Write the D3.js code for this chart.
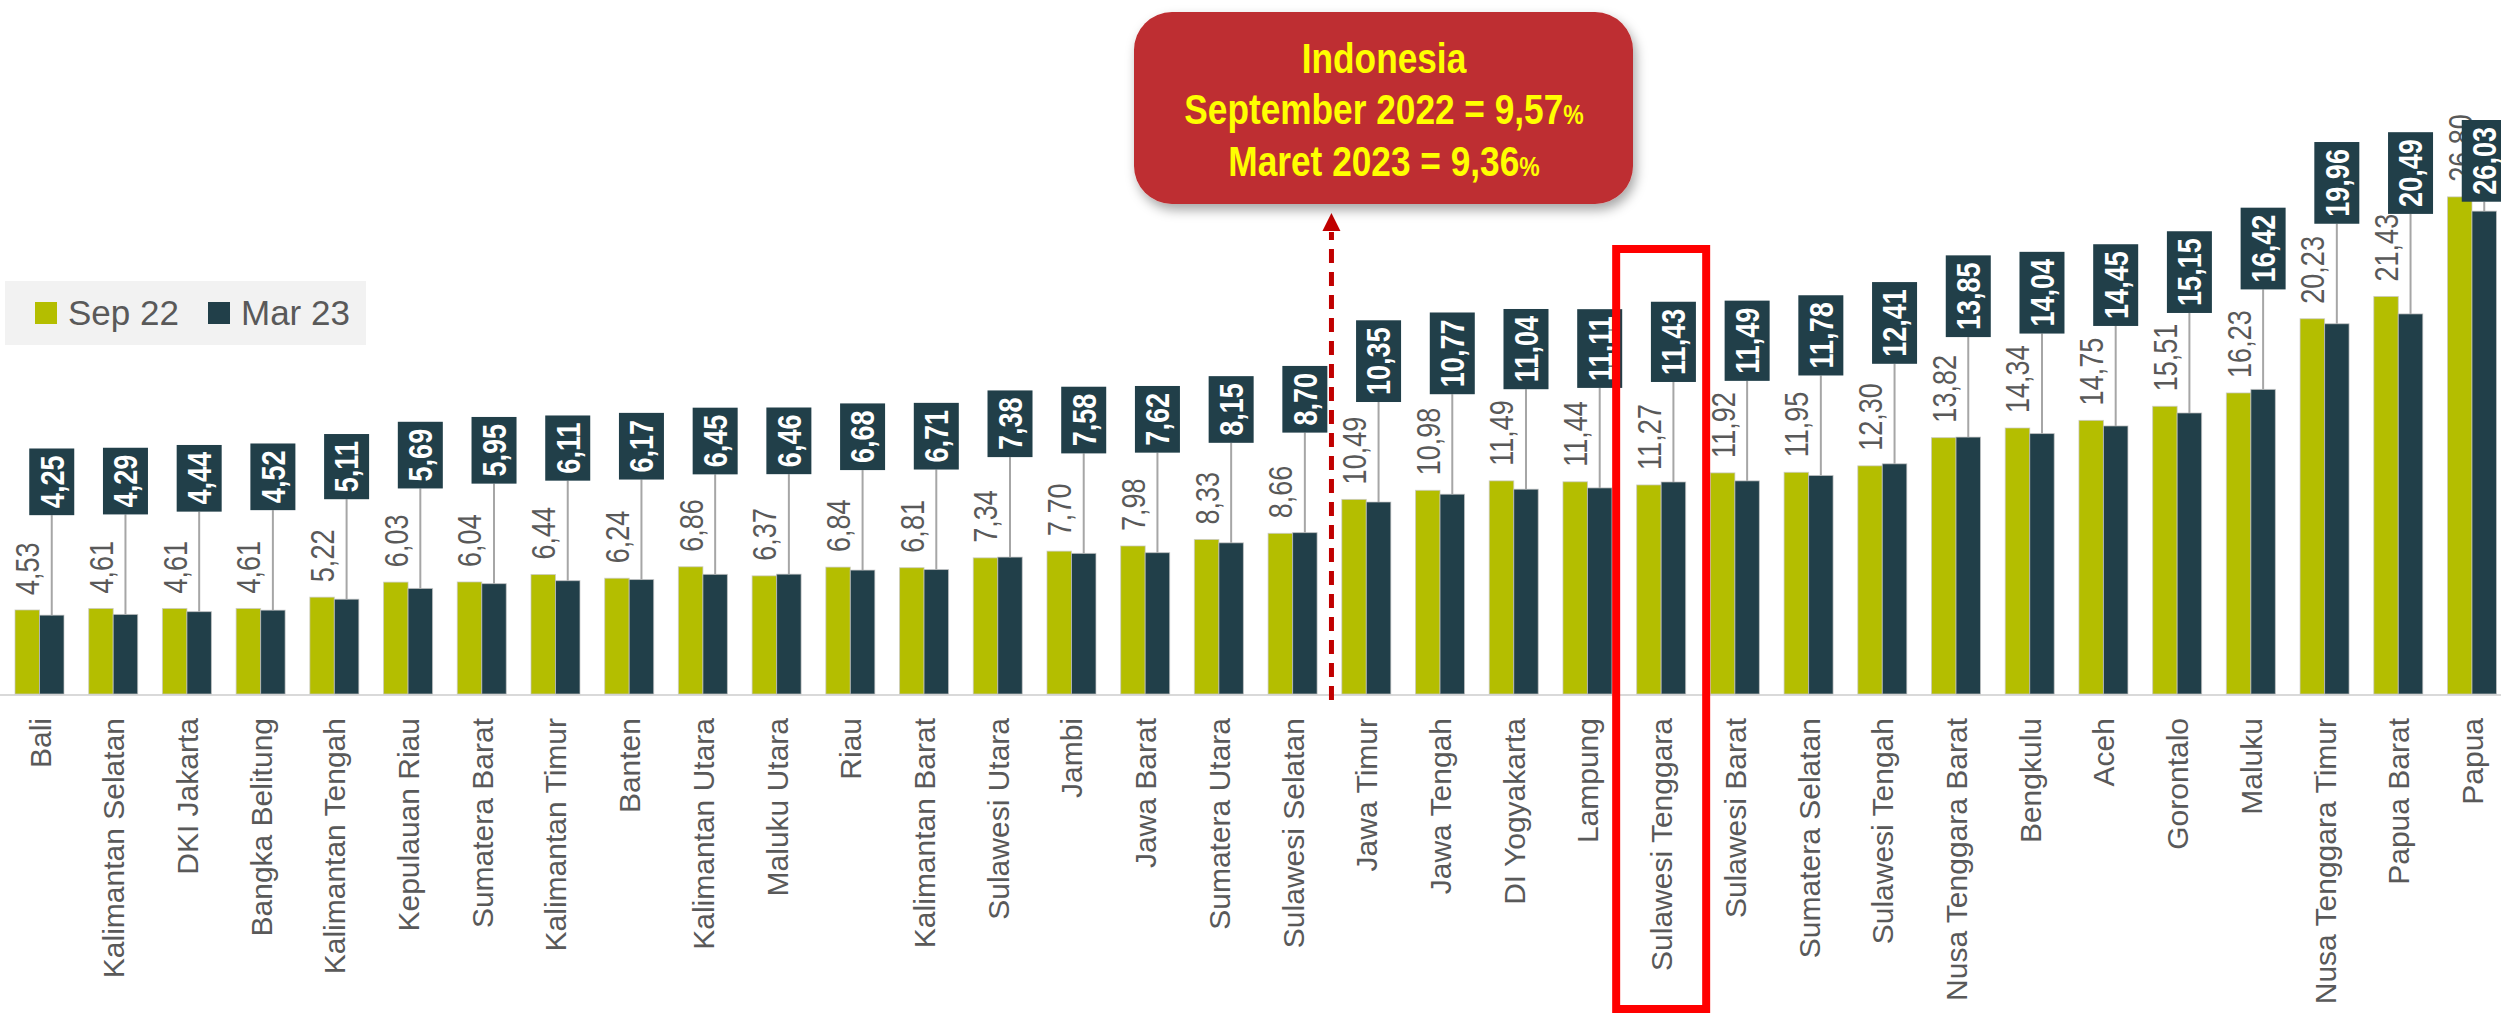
<!DOCTYPE html>
<html><head><meta charset="utf-8">
<script src="https://cdn.jsdelivr.net/npm/d3@7"></script>
<style>html,body{margin:0;padding:0;background:#fff;overflow:hidden}</style>
</head><body>
<svg id="chart" width="2501" height="1016"></svg>
<script>
// ---------------- DATA ----------------
const categories = ["Bali","Kalimantan Selatan","DKI Jakarta","Bangka Belitung","Kalimantan Tengah","Kepulauan Riau","Sumatera Barat","Kalimantan Timur","Banten","Kalimantan Utara","Maluku Utara","Riau","Kalimantan Barat","Sulawesi Utara","Jambi","Jawa Barat","Sumatera Utara","Sulawesi Selatan","Jawa Timur","Jawa Tengah","DI Yogyakarta","Lampung","Sulawesi Tenggara","Sulawesi Barat","Sumatera Selatan","Sulawesi Tengah","Nusa Tenggara Barat","Bengkulu","Aceh","Gorontalo","Maluku","Nusa Tenggara Timur","Papua Barat","Papua"];
const sep22 = [4.53,4.61,4.61,4.61,5.22,6.03,6.04,6.44,6.24,6.86,6.37,6.84,6.81,7.34,7.70,7.98,8.33,8.66,10.49,10.98,11.49,11.44,11.27,11.92,11.95,12.30,13.82,14.34,14.75,15.51,16.23,20.23,21.43,26.80];
const mar23 = [4.25,4.29,4.44,4.52,5.11,5.69,5.95,6.11,6.17,6.45,6.46,6.68,6.71,7.38,7.58,7.62,8.15,8.70,10.35,10.77,11.04,11.11,11.43,11.49,11.78,12.41,13.85,14.04,14.45,15.15,16.42,19.96,20.49,26.03];
const seriesNames = ["Sep 22","Mar 23"];
const calloutLines = [["Indonesia",""],["September 2022 = 9,57","%"],["Maret 2023 = 9,36","%"]];
const highlightCategory = "Sulawesi Tenggara";
const nationalAfter = "Sulawesi Selatan";

// ---------------- SETUP ----------------
const W = 2501, H = 1016;
const COL_SEP = "#b4be00", COL_MAR = "#213f49", TXT = "#595959";
const fmt = v => v.toFixed(2).replace(".", ",");

const NARROW = '"Liberation Sans Narrow","Arial Narrow","Liberation Sans",Arial,sans-serif';
const REG = '"Liberation Sans",Arial,sans-serif';

const svg = d3.select("#chart");
svg.append("rect").attr("width", W).attr("height", H).attr("fill", "#fff");

// measure narrow font digits and derive a horizontal scale so digits are Arial-Narrow wide (0.456em)
function narrowScale(weight){
  const t = svg.append("text").style("font-family", NARROW).style("font-size", "100px")
    .style("font-weight", weight).text("0123456789");
  const L = t.node().getComputedTextLength();
  t.remove();
  return Math.min(1, 456 / L);
}
const NS = narrowScale("normal");
const NSB = narrowScale("bold");

const baseY = 694;
const y = d3.scaleLinear().domain([0, 30]).range([baseY, baseY - 30 * 18.55]);
const x = d3.scalePoint().domain(categories).range([39.5, 2472]);
const xs = d3.scaleBand().domain(seriesNames).range([-24.5, 24.5]);
const bw = xs.bandwidth();
const series = [sep22, mar23];
const colors = [COL_SEP, COL_MAR];

// ---------------- AXIS ----------------
svg.append("line").attr("x1", 0).attr("x2", W).attr("y1", baseY + 1).attr("y2", baseY + 1)
  .attr("stroke", "#d9d9d9").attr("stroke-width", 2);

const axis = svg.append("g").attr("transform", `translate(0,${baseY})`)
  .call(d3.axisBottom(x).tickSize(0).tickPadding(0));
axis.select(".domain").remove();
axis.selectAll("text")
  .attr("y", 0).attr("x", -24).attr("dy", "0.35em")
  .attr("transform", "rotate(-90)").attr("text-anchor", "end")
  .style("font-family", REG).style("font-size", "30px").attr("fill", TXT);

// ---------------- BARS ----------------
const bars = svg.append("g");
series.forEach((vals, si) => {
  bars.selectAll(".b" + si).data(categories).join("rect")
    .attr("x", d => x(d) + xs(seriesNames[si]))
    .attr("y", (d, i) => y(vals[i]))
    .attr("width", bw)
    .attr("height", (d, i) => y(0) - y(vals[i]))
    .attr("fill", colors[si])
    .attr("stroke", "#c8c8c8").attr("stroke-width", 1).attr("stroke-opacity", 0.7);
});

// ---------------- SEP LABELS ----------------
svg.append("g").selectAll("text").data(categories).join("text")
  .attr("transform", (d, i) => `translate(${x(d) + xs(seriesNames[0]) + bw / 2},${y(sep22[i]) - 15}) rotate(-90) scale(${NS},1)`)
  .attr("dy", "0.36em").attr("text-anchor", "start")
  .style("font-family", NARROW).style("font-size", "33px").attr("fill", TXT)
  .text((d, i) => fmt(sep22[i]));

// ---------------- MAR LABELS (boxes) ----------------
const marG = svg.append("g");
categories.forEach((c, i) => {
  const cx = x(c) + xs(seriesNames[1]) + bw / 2;
  const top = y(mar23[i]);
  const g = marG.append("g");
  const t = g.append("text").attr("text-anchor", "middle").attr("dy", "0.36em")
    .style("font-family", NARROW).style("font-size", "33px").style("font-weight", "bold")
    .attr("fill", "#fff").text(fmt(mar23[i]));
  const len = t.node().getComputedTextLength() * NSB;
  const h = len + 14, w = 45;
  const boxTop = Math.max(top - 100 - h, 120);
  const boxBottom = boxTop + h;
  g.insert("line", "text").attr("x1", cx).attr("x2", cx).attr("y1", boxBottom).attr("y2", top)
    .attr("stroke", "#a6a6a6").attr("stroke-width", 2);
  g.insert("rect", "text").attr("x", cx - w / 2).attr("y", boxTop).attr("width", w).attr("height", h)
    .attr("fill", COL_MAR);
  t.attr("transform", `translate(${cx},${boxTop + h / 2}) rotate(-90) scale(${NSB},1)`);
});

// ---------------- LEGEND ----------------
const leg = svg.append("g");
leg.append("rect").attr("x", 5).attr("y", 281).attr("width", 361).attr("height", 64).attr("fill", "#f2f2f2");
const legX = [[35, 68], [208, 241]];
seriesNames.forEach((s, i) => {
  leg.append("rect").attr("x", legX[i][0]).attr("y", 302).attr("width", 22).attr("height", 22).attr("fill", colors[i]);
  leg.append("text").attr("x", legX[i][1]).attr("y", 325).style("font-family", REG).style("font-size", "35px")
    .attr("fill", TXT).text(s);
});

// ---------------- HIGHLIGHT BOX ----------------
svg.append("rect").attr("x", x(highlightCategory) - 45).attr("y", 249).attr("width", 90).attr("height", 760)
  .attr("fill", "none").attr("stroke", "#ff0000").attr("stroke-width", 8);

// ---------------- ARROW ----------------
const ia = categories.indexOf(nationalAfter);
const xm = (x(categories[ia]) + x(categories[ia + 1])) / 2 + 2;
svg.append("line").attr("x1", xm).attr("x2", xm).attr("y1", 700).attr("y2", 232)
  .attr("stroke", "#c00000").attr("stroke-width", 5).attr("stroke-dasharray", "14 9");
svg.append("path").attr("d", `M${xm},213 L${xm - 9},231 L${xm + 9},231 Z`).attr("fill", "#c00000");

// ---------------- CALLOUT ----------------
const defs = svg.append("defs");
const f = defs.append("filter").attr("id", "sh").attr("x", "-10%").attr("y", "-10%").attr("width", "130%").attr("height", "140%");
f.append("feDropShadow").attr("dx", 3).attr("dy", 6).attr("stdDeviation", 6).attr("flood-color", "#000").attr("flood-opacity", 0.35);
svg.append("rect").attr("x", 1134).attr("y", 12).attr("width", 499).attr("height", 192).attr("rx", 38).attr("ry", 38)
  .attr("fill", "#be2d30").attr("filter", "url(#sh)");
const baselines = [73, 124, 176];
calloutLines.forEach((ln, i) => {
  const g = svg.append("g").attr("transform", `translate(1384,${baselines[i]}) scale(${NSB},1)`);
  const t = g.append("text").attr("text-anchor", "middle")
    .style("font-family", NARROW).style("font-weight", "bold").style("font-size", "43px").attr("fill", "#ffff00");
  t.append("tspan").text(ln[0]);
  if (ln[1]) t.append("tspan").style("font-size", "28px").text(ln[1]);
});
</script>
</body></html>
